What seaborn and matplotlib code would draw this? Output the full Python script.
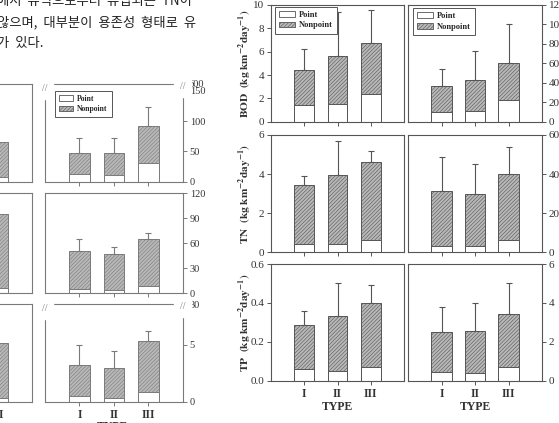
import numpy as np
import matplotlib
matplotlib.use('Agg')
import matplotlib.pyplot as plt
import seaborn as sns
from matplotlib.patches import Patch

W, H = 559, 423

types = ['I', 'II', 'III']

# right figure: panel (a) on the left axis, panel (b) on the right axis
bod_a_point = [1.43, 1.52, 2.39]
bod_a_total = [4.40, 5.63, 6.75]
bod_a_err = [6.2, 9.4, 9.57]
bod_b_point = [9.7, 11.4, 22.4]
bod_b_total = [36.5, 42.4, 60.3]
bod_b_err = [54.5, 72.8, 100.3]

tn_a_point = [0.41, 0.44, 0.62]
tn_a_total = [3.44, 3.97, 4.62]
tn_a_err = [3.91, 5.67, 5.16]
tn_b_point = [3.4, 3.4, 6.2]
tn_b_total = [31.1, 29.9, 39.8]
tn_b_err = [48.7, 45.1, 53.8]

tp_a_point = [0.059, 0.050, 0.070]
tp_a_total = [0.285, 0.334, 0.397]
tp_a_err = [0.36, 0.50, 0.49]
tp_b_point = [0.43, 0.38, 0.68]
tp_b_total = [2.50, 2.54, 3.43]
tp_b_err = [3.79, 3.98, 5.04]

# left figure (cut off by the page edge); only type III of its left panel shows
l1_point = [12.2, 11.1, 30.6]
l1_total = [47.2, 47.2, 91.7]
l1_err = [72.2, 72.2, 123]
l2_point = [5, 4, 9]
l2_total = [51, 47, 65]
l2_err = [65, 56, 72]
l3_point = [0.5, 0.35, 0.88]
l3_total = [3.2, 2.94, 5.35]
l3_err = [5.0, 4.47, 6.18]
cut_point = [8.3, 6, 0.3]
cut_total = [65, 95, 5.2]

text_lines = ['에서  유역으로부터  유입되는  TN이',
              '않으며,  대부분이  용존성  형태로  유',
              '가  있다.']

sns.set_style('ticks')
plt.rcParams['font.family'] = ['Liberation Serif', 'DejaVu Serif']
plt.rcParams['mathtext.fontset'] = 'stix'
plt.rcParams['hatch.linewidth'] = 0.4
plt.rcParams['hatch.color'] = '#666666'

LINE = '#555555'
LINE2 = '#7a7a7a'
NP_FACE = '#b8b8b8'
HATCH = '/////////'
TXT = '#333333'

fig = plt.figure(figsize=(W / 100, H / 100), dpi=100)


def panel(l, t, r, b):
    return fig.add_axes([l / W, 1 - b / H, (r - l) / W, (b - t) / H])


def stack(ax, point, total, err=None, names=types, col=LINE):
    sns.barplot(x=names, y=total, order=types, color=NP_FACE, saturation=1,
                width=0.6, edgecolor=col, linewidth=0.7, hatch=HATCH,
                errorbar=None, ax=ax)
    sns.barplot(x=names, y=point, order=types, color='white', saturation=1,
                width=0.6, edgecolor=col, linewidth=0.7, errorbar=None, ax=ax)
    if err is not None:
        pos = [types.index(n) for n in names]
        up = np.array(err) - np.array(total)
        ax.errorbar(pos, total, yerr=[np.zeros(len(up)), up], fmt='none',
                    ecolor=col, elinewidth=0.8, capsize=2.2, capthick=0.8, zorder=5)
    ax.set_xlim(-1, 3)
    ax.set_xlabel('')
    ax.set_ylabel('')
    for s in ax.spines.values():
        s.set_color(col)
        s.set_linewidth(0.8)
    ax.tick_params(colors=col, labelcolor=TXT, length=3, width=0.7,
                   labelsize=8, pad=2)


def legend(ax, x, y, size=6):
    h = [Patch(facecolor='white', edgecolor=LINE, linewidth=0.6),
         Patch(facecolor=NP_FACE, edgecolor=LINE, hatch=HATCH, linewidth=0.6)]
    lg = ax.legend(h, ['Point', 'Nonpoint'], loc='upper left', bbox_to_anchor=(x, y),
                   prop={'family': 'Liberation Serif', 'weight': 'bold', 'size': size},
                   frameon=True, fancybox=False, edgecolor=LINE, framealpha=1,
                   handlelength=1.9, handleheight=0.7, borderpad=0.5,
                   labelspacing=0.3, handletextpad=0.5, borderaxespad=0)
    lg.get_frame().set_linewidth(0.7)


def brk(ax, x, y):
    ax.text(x, y, '//', transform=ax.transAxes, ha='center', va='center',
            fontsize=7, color=LINE2, backgroundcolor='white', clip_on=False)


# ---------- right figure ----------
rows_r = [(5, 121.7), (135, 252.3), (264, 380.7)]
cols_r = [(271, 404), (408, 542)]
data_r = [
    (bod_a_point, bod_a_total, bod_a_err, bod_b_point, bod_b_total, bod_b_err, 10, 2, 120, 20),
    (tn_a_point, tn_a_total, tn_a_err, tn_b_point, tn_b_total, tn_b_err, 6, 2, 60, 20),
    (tp_a_point, tp_a_total, tp_a_err, tp_b_point, tp_b_total, tp_b_err, 0.6, 0.2, 6, 2),
]
ylabels = [r'$\mathbf{BOD\ \ (kg\ km^{-2}day^{-1})}$',
           r'$\mathbf{TN\ \ (kg\ km^{-2}day^{-1})}$',
           r'$\mathbf{TP\ \ (kg\ km^{-2}day^{-1})}$']

for i, (t, b) in enumerate(rows_r):
    pa, ta, ea, pb, tb, eb, topa, stepa, topb, stepb = data_r[i]
    axa = panel(cols_r[0][0], t, cols_r[0][1], b)
    stack(axa, pa, ta, ea)
    axa.set_ylim(0, topa)
    axa.set_yticks(np.arange(0, topa + stepa / 2, stepa))
    if i == 2:
        axa.set_yticklabels(['%.1f' % v for v in np.arange(0, topa + stepa / 2, stepa)])
    axa.tick_params(axis='y', left=True, right=False)
    axb = panel(cols_r[1][0], t, cols_r[1][1], b)
    stack(axb, pb, tb, eb)
    axb.set_ylim(0, topb)
    axb.set_yticks(np.arange(0, topb + stepb / 2, stepb))
    axb.tick_params(axis='y', left=False, labelleft=False, right=True, labelright=True)
    for ax in (axa, axb):
        ax.tick_params(axis='x', bottom=True, labelbottom=(i == 2), labelsize=8.5)
        if i == 2:
            for lab in ax.get_xticklabels():
                lab.set_fontweight('bold')
            ax.set_xlabel('TYPE', fontsize=8.5, fontweight='bold', color=TXT, labelpad=1)
    if i == 0:
        legend(axa, 0.03, 0.985)
        legend(axb, 0.037, 0.975)
    fig.text(245 / W, 1 - (t + b) / 2 / H, ylabels[i], rotation=90, ha='center',
             va='center', fontsize=8.2, color=TXT)

# ---------- left figure (partly off the page) ----------
rows_l = [(84, 181.7), (193.3, 293.3), (304, 401.7)]
cols_l = [(-106, 31.7), (45, 182.7)]
data_l = [(l1_point, l1_total, l1_err, 161, [0, 50, 100, 150], ['0', '50', '100', '150']),
          (l2_point, l2_total, l2_err, 120, [0, 30, 60, 90, 120], ['0', '30', '60', '90', '120']),
          (l3_point, l3_total, l3_err, 8.6, [0, 5, 8.6], ['0', '5', '30'])]

for i, (t, b) in enumerate(rows_l):
    p, tot, e, top, ticks, labs = data_l[i]
    axc = panel(cols_l[0][0], t, cols_l[0][1], b)
    stack(axc, [cut_point[i]], [cut_total[i]], names=['III'], col=LINE2)
    axc.set_ylim(0, top)
    axc.tick_params(axis='y', left=False, labelleft=False)
    axc.tick_params(axis='x', bottom=False, labelbottom=(i == 2), labelsize=8.5)
    axd = panel(cols_l[1][0], t, cols_l[1][1], b)
    stack(axd, p, tot, e, col=LINE2)
    axd.set_ylim(0, top)
    axd.set_yticks(ticks)
    axd.set_yticklabels(labs)
    axd.tick_params(axis='y', left=False, labelleft=False, right=True, labelright=True,
                    labelsize=7.5)
    axd.tick_params(axis='x', bottom=True, labelbottom=(i == 2), labelsize=8.5)
    if i == 2:
        for ax in (axc, axd):
            for lab in ax.get_xticklabels():
                lab.set_fontweight('bold')
    if i == 0:
        legend(axd, 0.073, 0.93, size=5.5)
        axd.text(1.04, 1.0, '600', transform=axd.transAxes, fontsize=7.5, color=TXT,
                 ha='left', va='center')
    if i != 1:
        brk(axd, 0.0, 0.95)
        brk(axd, 1.0, 0.97)

fig.text(112 / W, 1 - 421 / H, 'TYPE', ha='center', va='top', fontsize=8.5,
         fontweight='bold', color=TXT)

# ---------- body text ----------
for k, y in enumerate([1, 22, 43]):
    fig.text(-3 / W, 1 - y / H, text_lines[k], ha='left', va='center', fontsize=9.6,
             family=['Noto Sans CJK KR', 'DejaVu Sans'], color='#222222')

fig.savefig('out.png', dpi=100)
